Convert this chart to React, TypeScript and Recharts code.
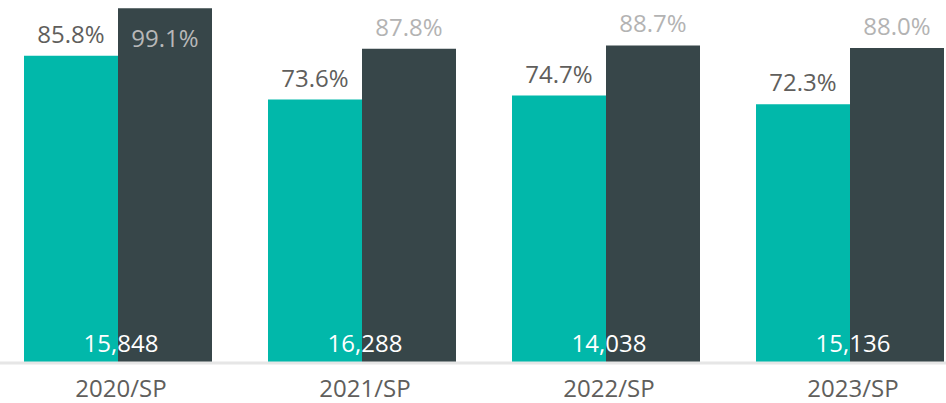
import { BarChart, Bar, XAxis, YAxis, LabelList } from 'recharts';

const categories = ['2020/SP', '2021/SP', '2022/SP', '2023/SP'];
const rateA = [85.8, 73.6, 74.7, 72.3];
const rateB = [99.1, 87.8, 88.7, 88.0];
const counts = [15848, 16288, 14038, 15136];

const data = categories.map((name, i) => ({
  name,
  rateA: rateA[i],
  rateB: rateB[i],
  count: counts[i],
}));

const FONT = "'Segoe UI', 'Open Sans', sans-serif";

const pct = (v: number) => `${v.toFixed(1)}%`;

const TealLabel = (props: any) => {
  const { x, y, width, value } = props;
  return (
    <text x={x + width / 2} y={y - 13} textAnchor="middle" fontSize={24} fontFamily={FONT} fill="#605E5C">
      {pct(value)}
    </text>
  );
};

const DarkLabel = (props: any) => {
  const { x, y, width, value } = props;
  const inside = y < 35;
  return (
    <text
      x={x + width / 2}
      y={inside ? y + 39 : y - 13}
      textAnchor="middle"
      fontSize={24}
      fontFamily={FONT}
      fill={inside ? '#b8b8b8' : '#b3b3b3'}
    >
      {pct(value)}
    </text>
  );
};

// count sits centered on the category, drawn with the dark bar so it stays on top
const CountLabel = (props: any) => {
  const { x, y, height, value } = props;
  return (
    <text x={x + 3} y={y + height - 11} textAnchor="middle" fontSize={24} fontFamily={FONT} fill="#ffffff">
      {Number(value).toLocaleString('en-US')}
    </text>
  );
};

export default function App() {
  return (
    <div style={{ position: 'absolute', left: 0, top: 0, width: 946, height: 403, overflow: 'hidden', background: '#fff' }}>
      <div style={{ marginLeft: -4 }}>
        <BarChart
          width={976}
          height={403}
          data={data}
          margin={{ top: 5, right: 0, left: 0, bottom: 0 }}
          barCategoryGap={28}
          barGap={0}
        >
          <XAxis
            dataKey="name"
            height={40}
            tickLine={false}
            axisLine={{ stroke: '#e6e6e6', strokeWidth: 3 }}
            tickMargin={11}
            tick={{ fontSize: 24, fontFamily: FONT, fill: '#605E5C', dx: 3 }}
            interval={0}
          />
          <YAxis hide domain={[0, 100]} />
          <Bar dataKey="rateA" fill="#01B8AA" isAnimationActive={false}>
            <LabelList dataKey="rateA" content={TealLabel} />
          </Bar>
          <Bar dataKey="rateB" fill="#374649" isAnimationActive={false}>
            <LabelList dataKey="rateB" content={DarkLabel} />
            <LabelList dataKey="count" content={CountLabel} />
          </Bar>
        </BarChart>
      </div>
    </div>
  );
}
